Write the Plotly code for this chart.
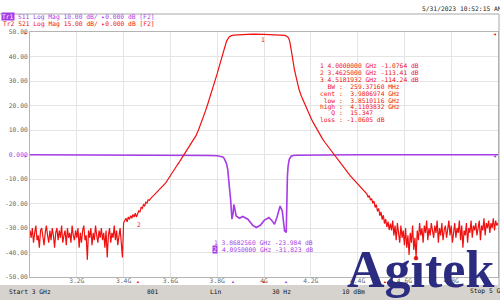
import plotly.graph_objects as go

# ---------------- data ----------------
F_START, F_STOP = 3.0, 5.0
NOISE_STEP = 0.005  # GHz grid used for the stop-band noise segments

# S21 (Tr2) – left stop band noise, 3.000 ... 3.400 GHz (displayed dB)
s21_left_noise = [
    -31, -34, -30, -36, -32, -29, -35, -33, -38, -31,
    -30, -34, -37, -32, -29, -33, -36, -31, -35, -30,
    -33, -38, -32, -30, -35, -31, -34, -29, -36, -33,
    -31, -37, -30, -34, -32, -36, -29, -33, -35, -31,
    -34, -30, -38, -32, -36, -31, -29, -35, -33, -43,
    -31, -34, -30, -37, -32, -35, -29, -33, -36, -31,
    -34, -30, -35, -32, -38, -31, -42, -33, -30, -36,
    -32, -34, -29, -35, -31, -37, -33, -30, -36, -42, -28]

# S21 – skirts and pass band
s21_mid_f = [
    3.405, 3.410, 3.415, 3.420, 3.425, 3.430, 3.435, 3.440, 3.445, 3.450,
    3.455, 3.460, 3.465, 3.470, 3.475, 3.480, 3.485, 3.490, 3.495, 3.500,
    3.505, 3.510, 3.515, 3.520, 3.530, 3.540, 3.550, 3.560, 3.570, 3.580,
    3.590, 3.600, 3.610, 3.620, 3.630, 3.640, 3.650, 3.660, 3.670, 3.680,
    3.690, 3.700, 3.710, 3.720, 3.730, 3.740, 3.750, 3.760, 3.770, 3.780,
    3.790, 3.800, 3.810, 3.820, 3.830, 3.840, 3.850, 3.860, 3.870, 3.900,
    3.950, 4.000, 4.050, 4.080, 4.090, 4.100, 4.105, 4.110, 4.115, 4.120,
    4.130, 4.140, 4.150, 4.160, 4.170, 4.180, 4.190, 4.200, 4.210, 4.220,
    4.230, 4.240, 4.250, 4.260, 4.270, 4.280, 4.290, 4.300, 4.310, 4.320,
    4.330, 4.340, 4.350, 4.360, 4.370, 4.380, 4.390, 4.400, 4.410, 4.420,
    4.430, 4.440, 4.445, 4.450, 4.455, 4.460, 4.465, 4.470, 4.475, 4.480,
    4.485, 4.490, 4.495, 4.500, 4.505, 4.510, 4.515, 4.520, 4.525, 4.530,
    4.535, 4.540]
s21_mid_db = [
    -27.0, -26.0, -27.5, -25.5, -26.5, -25.0, -26.0, -24.5, -25.5, -24.0,
    -25.5, -24.5, -23.0, -23.5, -21.5, -22.0, -20.5, -21.0, -19.5, -19.8,
    -18.5, -18.7, -17.8, -17.5, -16.6, -15.6, -14.6, -13.8, -12.9, -11.6,
    -10.1, -8.5, -7.1, -5.6, -4.2, -2.8, -1.3, 0.5, 1.9, 3.3,
    4.8, 6.3, 7.8, 10.0, 12.4, 15.0, 17.8, 20.7, 23.6, 26.6,
    29.7, 33.0, 36.4, 40.0, 43.5, 46.3, 47.9, 48.5, 48.7, 48.9,
    49.1, 49.0, 48.9, 48.8, 48.6, 48.1, 47.5, 46.2, 43.8, 40.6,
    34.6, 29.8, 26.4, 23.8, 21.4, 19.1, 17.0, 15.0, 13.1, 11.3,
    9.6, 7.9, 6.4, 5.0, 3.7, 2.4, 1.1, -0.2, -1.4, -2.6,
    -3.8, -5.1, -6.4, -7.6, -8.8, -9.9, -11.0, -12.0, -13.0, -14.0,
    -15.0, -16.2, -17.4, -16.8, -18.6, -18.0, -19.9, -19.0, -21.6, -20.4,
    -23.2, -22.0, -25.0, -23.4, -26.6, -24.8, -28.2, -26.4, -29.6, -27.4,
    -30.8, -28.2]

# S21 – right stop band noise, 4.545 ... 5.000 GHz
s21_right_noise = [
    -31, -27, -33, -29, -35, -28, -32, -36, -29, -34, -31, -37,
    -30, -38, -33, -41, -32, -36, -29, -39, -34, -42, -31, -35,
    -28, -33, -30, -36, -29, -32, -27, -35, -30, -33, -28, -31,
    -34, -29, -32, -27, -36, -30, -33, -28, -35, -31, -29, -34,
    -30, -27, -33, -29, -36, -31, -28, -34, -30, -32, -27, -35,
    -29, -38, -31, -33, -28, -36, -30, -32, -27, -34, -29, -31,
    -28, -33, -30, -27, -35, -29, -31, -26, -33, -28, -30, -27,
    -32, -28, -30, -26, -31, -27, -29, -28]

# S11 (Tr1) displayed dB
s11_f = [3.000, 3.200, 3.400, 3.600, 3.700, 3.760, 3.800, 3.815, 3.824, 3.830,
         3.835, 3.840, 3.845, 3.850, 3.853, 3.857, 3.860, 3.863, 3.868, 3.871,
         3.876, 3.881, 3.895, 3.909, 3.931, 3.952, 3.967, 3.984, 4.002, 4.021,
         4.035, 4.045, 4.055, 4.069, 4.078, 4.083, 4.088, 4.095, 4.0975, 4.100,
         4.103, 4.108, 4.116, 4.125, 4.140, 4.200, 4.400, 4.600, 4.800, 5.000]
s11_db = [-0.1, -0.1, -0.2, -0.2, -0.3, -0.4, -0.5, -0.7, -1.0, -1.6,
          -2.5, -3.8, -6.1, -10.0, -14.2, -18.0, -21.0, -26.4, -24.0, -20.4,
          -22.5, -25.1, -26.0, -25.3, -26.4, -28.9, -29.8, -28.9, -26.8, -25.7,
          -27.1, -28.5, -25.7, -21.0, -23.0, -27.1, -31.2, -31.8, -14.2, -9.0,
          -4.7, -2.0, -0.7, -0.4, -0.3, -0.2, -0.1, -0.1, -0.1, -0.1]

x_tick_vals = [3.2, 3.4, 3.6, 3.8, 4.0, 4.2, 4.4, 4.6, 4.8]
x_tick_text = ["3.2G", "3.4G", "3.6G", "3.8G", "4G", "4.2G", "4.4G", "4.6G", "4.8G"]
y_tick_vals = [50, 40, 30, 20, 10, 0, -10, -20, -30, -40, -50]
y_tick_text = ["50.00", "40.00", "30.00", "20.00", "10.00", "0.000",
               "-10.00", "-20.00", "-30.00", "-40.00", "-50.00"]

s21_marker_lines = ["1\u00a04.0000000\u00a0GHz\u00a0-1.0764\u00a0dB",
                    "2\u00a03.4625000\u00a0GHz\u00a0-113.41\u00a0dB",
                    "3\u00a04.5181932\u00a0GHz\u00a0-114.24\u00a0dB",
                    "\u00a0\u00a0BW\u00a0:\u00a0\u00a0259.37160\u00a0MHz",
                    "cent\u00a0:\u00a0\u00a03.9806974\u00a0GHz",
                    "\u00a0low\u00a0:\u00a0\u00a03.8510116\u00a0GHz",
                    "high\u00a0:\u00a0\u00a04.1103832\u00a0GHz",
                    "\u00a0\u00a0\u00a0Q\u00a0:\u00a0\u00a015.347",
                    "loss\u00a0:\u00a0-1.0605\u00a0dB"]
s11_marker_lines = ["1\u00a03.8682560\u00a0GHz\u00a0-23.984\u00a0dB",
                    "4.0950000\u00a0GHz\u00a0-31.823\u00a0dB"]
status_texts = [("Start 3 GHz", 7), ("801", 145), ("Lin", 208), ("30 Hz", 270),
                ("10 dBm", 340), ("Stop 5 GHz", 468)]

# ---------------- assemble traces ----------------
s21_f, s21_db = [], []
for i, v in enumerate(s21_left_noise):
    s21_f.append(round(F_START + i * NOISE_STEP, 4)); s21_db.append(v)
s21_f += s21_mid_f; s21_db += s21_mid_db
for i, v in enumerate(s21_right_noise):
    s21_f.append(round(4.545 + i * NOISE_STEP, 4)); s21_db.append(v)

RED = "#f01010"
PURPLE = "#a63ce6"
MONO = "DejaVu Sans Mono"

fig = go.Figure()
fig.add_trace(go.Scatter(x=s11_f, y=s11_db, mode="lines",
                         line=dict(color=PURPLE, width=1.6), hoverinfo="skip"))
fig.add_trace(go.Scatter(x=s21_f, y=s21_db, mode="lines",
                         line=dict(color=RED, width=1.2), hoverinfo="skip"))

# pixel helpers for annotation placement (plot area 30..498 x 32..277)
L, R, T, B = 30, 498, 32, 277
def px(x): return (x - L) / (R - L)
def py(y): return (B - y) / (B - T)

anns = []
def text(x, y, s, color, size=6.3, xanchor="left", **kw):
    anns.append(dict(x=px(x), y=py(y), xref="paper", yref="paper", text=s,
                     showarrow=False, xanchor=xanchor, yanchor="middle",
                     font=dict(family=MONO, size=size, color=color), **kw))

# header
text(1, 16.7, "Tr1", "white", bgcolor=PURPLE, borderpad=0)
text(16, 16.7, "S11\u00a0Log\u00a0Mag\u00a010.00\u00a0dB/\u00a0\u25b80.000\u00a0dB\u00a0[F2]", PURPLE)
text(1, 24, "Tr2\u00a0S21\u00a0Log\u00a0Mag\u00a015.00\u00a0dB/\u00a0\u25b80.000\u00a0dB\u00a0[F2]", RED)
text(420, 8.5, "5/31/2023\u00a010:52:15\u00a0AM", "#222222")

# S21 marker readout
ys = [65.7, 72.7, 79.3, 86.7, 93.3, 100, 106.7, 113.0, 119.3]
for s, yy in zip(s21_marker_lines, ys):
    text(318, yy, s, RED)
# S11 marker readout
text(212, 242.7, s11_marker_lines[0], PURPLE)
text(212, 249.3, "2", "white", bgcolor=PURPLE, borderpad=0)
text(219.5, 249.3, s11_marker_lines[1], PURPLE)

# trace marker labels
text(263, 40, "1", RED, xanchor="center")
text(139, 224, "2", RED, xanchor="center")

# stimulus triangles under the axis
for f, c in [(3.4625, RED), (3.868256, PURPLE), (4.0, RED), (4.095, PURPLE), (4.5181932, RED)]:
    anns.append(dict(x=f, y=py(281), xref="x", yref="paper", text="\u25b2", showarrow=False,
                     xanchor="center", yanchor="middle", font=dict(size=4, color=c)))
# reference arrows
text(30, 155, "\u25b8", PURPLE, size=6, xanchor="right")
text(30, 32, "\u25b8", RED, size=6, xanchor="right")
text(499, 155, "\u25c2", PURPLE, size=6, xanchor="right")
text(499, 33, "\u25c2", RED, size=6, xanchor="right")

# status bar texts
for s, x in status_texts:
    text(x, 291, s.replace(" ", "\u00a0"), "#111111")

# logo
anns.append(dict(x=px(345), y=py(300), xref="paper", yref="paper", text="<b>Ag\u0131tek</b>",
                 showarrow=False, xanchor="left", yanchor="bottom",
                 font=dict(family="Liberation Serif", size=52, color="#2b2c80")))
anns.append(dict(x=px(416), y=py(257), xref="paper", yref="paper", text="\u25cf",
                 showarrow=False, xanchor="center", yanchor="middle",
                 font=dict(size=10, color="#e0141e")))

shapes = [
    dict(type="rect", xref="paper", yref="paper", x0=px(0), x1=px(500), y0=py(285), y1=py(300),
         fillcolor="#d6d3ce", line=dict(width=0), layer="below"),
    dict(type="line", xref="paper", yref="paper", x0=px(0), x1=px(499), y0=py(14), y1=py(14),
         line=dict(color="#a8a8a8", width=1)),
    dict(type="line", xref="paper", yref="paper", x0=px(499), x1=px(499), y0=py(14), y1=py(285),
         line=dict(color="#a8a8a8", width=1)),
]

fig.update_layout(
    width=500, height=300, margin=dict(l=30, r=2, t=32, b=23),
    paper_bgcolor="white", plot_bgcolor="white", showlegend=False,
    annotations=anns, shapes=shapes,
    xaxis=dict(range=[F_START, F_STOP], tickvals=x_tick_vals, ticktext=x_tick_text,
               showgrid=True, gridcolor="#e4e4e4", gridwidth=1, ticklabelstandoff=-3,
               showline=True, linecolor="#b4b4b4", mirror=True, ticks="", zeroline=False,
               tickfont=dict(family=MONO, size=6.3, color="#666666")),
    yaxis=dict(range=[-50, 50], tickvals=y_tick_vals,
               ticktext=[('<span style="color:%s">%s</span>' % (PURPLE, t)) if v == 0 else t
                         for v, t in zip(y_tick_vals, y_tick_text)],
               showgrid=True, gridcolor="#e4e4e4", gridwidth=1, zeroline=False,
               showline=True, linecolor="#b4b4b4", mirror=True, ticks="",
               tickfont=dict(family=MONO, size=6.3, color="#666666")),
)
fig.write_html("out.html")
